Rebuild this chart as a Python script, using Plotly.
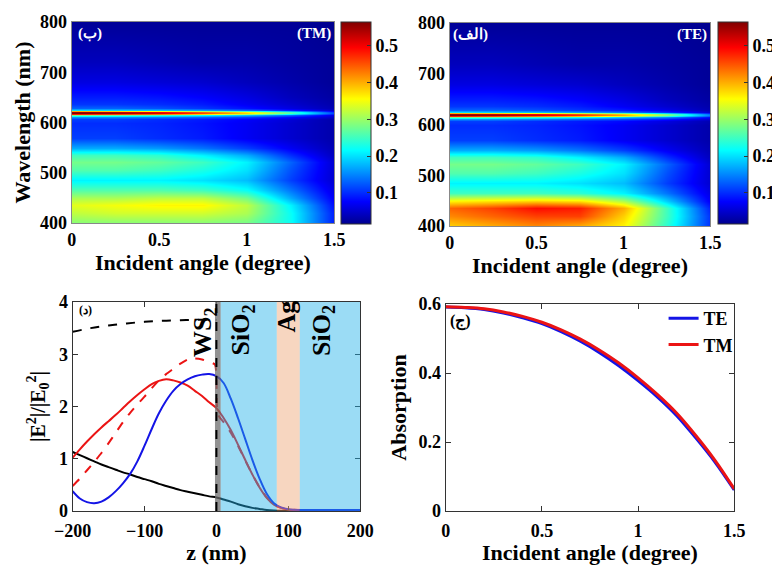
import plotly.graph_objects as go

# ---------------- data ----------------
angles = [0, 0.25, 0.5, 0.75, 1.0, 1.25, 1.5]
wavelengths = [400, 420, 435, 450, 465, 485, 505, 522, 535, 550, 570, 600, 606, 611,
               614, 616, 618, 620, 622, 625, 629, 636, 650, 680, 720, 800]

abs_tm_map = [
    [0.29, 0.29, 0.29, 0.29, 0.28, 0.22, 0.09],
    [0.32, 0.33, 0.33, 0.33, 0.31, 0.22, 0.09],
    [0.34, 0.35, 0.36, 0.36, 0.32, 0.21, 0.08],
    [0.31, 0.31, 0.32, 0.32, 0.28, 0.17, 0.07],
    [0.26, 0.26, 0.26, 0.25, 0.22, 0.14, 0.06],
    [0.21, 0.21, 0.21, 0.20, 0.18, 0.11, 0.05],
    [0.26, 0.26, 0.25, 0.23, 0.20, 0.12, 0.05],
    [0.28, 0.28, 0.27, 0.25, 0.21, 0.13, 0.05],
    [0.25, 0.25, 0.24, 0.21, 0.17, 0.10, 0.04],
    [0.17, 0.17, 0.16, 0.14, 0.11, 0.07, 0.035],
    [0.11, 0.11, 0.10, 0.09, 0.07, 0.05, 0.03],
    [0.10, 0.10, 0.095, 0.085, 0.07, 0.05, 0.03],
    [0.11, 0.11, 0.10, 0.09, 0.075, 0.055, 0.03],
    [0.16, 0.155, 0.145, 0.13, 0.11, 0.08, 0.045],
    [0.28, 0.27, 0.25, 0.22, 0.18, 0.13, 0.06],
    [0.48, 0.46, 0.43, 0.38, 0.31, 0.21, 0.09],
    [0.565, 0.55, 0.52, 0.46, 0.38, 0.26, 0.11],
    [0.55, 0.53, 0.50, 0.44, 0.36, 0.25, 0.10],
    [0.40, 0.38, 0.35, 0.31, 0.25, 0.17, 0.07],
    [0.20, 0.19, 0.18, 0.16, 0.13, 0.09, 0.045],
    [0.13, 0.13, 0.12, 0.105, 0.085, 0.06, 0.035],
    [0.105, 0.105, 0.10, 0.09, 0.07, 0.05, 0.03],
    [0.09, 0.09, 0.085, 0.075, 0.06, 0.04, 0.025],
    [0.06, 0.06, 0.055, 0.05, 0.04, 0.03, 0.02],
    [0.04, 0.04, 0.035, 0.03, 0.03, 0.025, 0.02],
    [0.02, 0.02, 0.02, 0.02, 0.02, 0.02, 0.015],
]

abs_te_map = [
    [0.38, 0.40, 0.42, 0.40, 0.36, 0.24, 0.10],
    [0.42, 0.44, 0.46, 0.46, 0.38, 0.25, 0.10],
    [0.44, 0.46, 0.49, 0.48, 0.40, 0.25, 0.09],
    [0.36, 0.37, 0.38, 0.37, 0.31, 0.19, 0.07],
    [0.25, 0.25, 0.25, 0.24, 0.21, 0.14, 0.06],
    [0.21, 0.21, 0.21, 0.20, 0.18, 0.11, 0.05],
    [0.26, 0.26, 0.25, 0.23, 0.20, 0.12, 0.05],
    [0.28, 0.28, 0.27, 0.25, 0.21, 0.13, 0.05],
    [0.25, 0.25, 0.24, 0.21, 0.17, 0.10, 0.04],
    [0.17, 0.17, 0.16, 0.14, 0.11, 0.07, 0.035],
    [0.11, 0.11, 0.10, 0.09, 0.07, 0.05, 0.03],
    [0.10, 0.10, 0.095, 0.085, 0.07, 0.05, 0.03],
    [0.11, 0.11, 0.10, 0.09, 0.08, 0.06, 0.035],
    [0.16, 0.155, 0.145, 0.13, 0.115, 0.09, 0.05],
    [0.28, 0.27, 0.25, 0.23, 0.19, 0.15, 0.08],
    [0.48, 0.46, 0.43, 0.39, 0.33, 0.24, 0.12],
    [0.565, 0.55, 0.52, 0.47, 0.40, 0.29, 0.14],
    [0.55, 0.53, 0.50, 0.45, 0.38, 0.28, 0.13],
    [0.40, 0.38, 0.35, 0.32, 0.27, 0.19, 0.09],
    [0.20, 0.19, 0.18, 0.16, 0.14, 0.10, 0.05],
    [0.13, 0.13, 0.12, 0.105, 0.09, 0.065, 0.035],
    [0.105, 0.105, 0.10, 0.09, 0.07, 0.05, 0.03],
    [0.09, 0.09, 0.085, 0.075, 0.06, 0.04, 0.025],
    [0.06, 0.06, 0.055, 0.05, 0.04, 0.03, 0.02],
    [0.04, 0.04, 0.035, 0.03, 0.03, 0.025, 0.02],
    [0.02, 0.02, 0.02, 0.02, 0.02, 0.02, 0.015],
]

# field profile panel
z_nm = [-200, -190, -180, -170, -160, -150, -140, -130, -120, -110, -100, -90, -80,
        -70, -60, -50, -40, -30, -20, -10, 0, 10, 20, 30, 40, 50, 60, 70, 80, 90,
        100, 120, 140, 160, 180, 200]
e_blue = [0.38, 0.24, 0.17, 0.15, 0.18, 0.26, 0.38, 0.53, 0.71, 0.95, 1.25, 1.57, 1.87,
          2.11, 2.30, 2.43, 2.52, 2.58, 2.61, 2.62, 2.58, 2.45, 2.15, 1.78, 1.38, 0.98,
          0.62, 0.33, 0.15, 0.07, 0.035, 0.02, 0.02, 0.02, 0.02, 0.02]
e_red = [1.02, 1.18, 1.33, 1.47, 1.60, 1.72, 1.84, 1.97, 2.10, 2.22, 2.33, 2.43, 2.49,
         2.52, 2.50, 2.46, 2.40, 2.30, 2.20, 2.08, 1.97, 1.78, 1.55, 1.27, 0.98, 0.70,
         0.45, 0.25, 0.12, 0.06, 0.03, 0.02, 0.02, 0.02, 0.02, 0.02]
e_black = [1.13, 1.07, 1.01, 0.95, 0.89, 0.84, 0.79, 0.74, 0.70, 0.65, 0.61, 0.57, 0.52,
           0.48, 0.44, 0.40, 0.37, 0.34, 0.31, 0.28, 0.26, 0.22, 0.18, 0.13, 0.09, 0.06,
           0.04, 0.02, 0.01, 0.005, 0.005, 0.005, 0.005, 0.005, 0.005, 0.005]
z_red_dash = [-200, -190, -180, -170, -160, -150, -140, -130, -120, -110, -100, -90,
              -80, -70, -60, -50, -40, -30, -20, -10, -2, 2, 10, 20, 30, 40, 50, 60,
              70, 80, 90, 100, 120, 140, 160, 180, 200]
e_red_dash = [0.48, 0.62, 0.78, 0.94, 1.11, 1.30, 1.50, 1.70, 1.88, 2.04, 2.19, 2.35,
              2.50, 2.62, 2.72, 2.82, 2.90, 2.92, 2.90, 2.85, 2.80, 1.85, 1.70, 1.50,
              1.25, 0.97, 0.70, 0.46, 0.26, 0.12, 0.06, 0.03, 0.02, 0.02, 0.02, 0.02, 0.02]
z_black_dash = [-200, -175, -150, -125, -100, -75, -50, -25, 0]
e_black_dash = [3.43, 3.50, 3.55, 3.59, 3.62, 3.64, 3.65, 3.66, 3.66]

layer_edges = [-2, 6, 84, 116, 200]   # WS2 | SiO2 | Ag | SiO2
layer_names = ["WS<sub>2</sub>", "SiO<sub>2</sub>", "Ag", "SiO<sub>2</sub>"]
layer_label_z = [-17, 36, 98, 148]
layer_label_y = [3.43, 3.46, 3.72, 3.46]

# absorption vs angle
angle_line = [0, 0.1, 0.2, 0.3, 0.4, 0.5, 0.6, 0.7, 0.8, 0.9, 1.0, 1.1, 1.2, 1.3, 1.4, 1.5]
abs_te = [0.591, 0.589, 0.584, 0.574, 0.560, 0.543, 0.520, 0.492, 0.459, 0.421, 0.378,
          0.331, 0.277, 0.212, 0.142, 0.061]
abs_tm = [0.592, 0.590, 0.586, 0.577, 0.564, 0.547, 0.525, 0.498, 0.466, 0.429, 0.386,
          0.338, 0.284, 0.219, 0.147, 0.064]

# ---------------- style ----------------
FONT = "Liberation Serif"
OX, OY = 8, 8            # page body margin of the browser
W, H = 772, 557
jet = [[0, "rgb(0,0,143)"], [0.111, "rgb(0,0,255)"], [0.365, "rgb(0,255,255)"],
       [0.619, "rgb(255,255,0)"], [0.873, "rgb(255,0,0)"], [1, "rgb(128,0,0)"]]
ZMIN, ZMAX = 0.015, 0.565


def px(x0, x1):
    return [(x0 - OX) / W, (x1 - OX) / W]


def py(top, bottom):
    return [1 - (bottom - OY) / H, 1 - (top - OY) / H]


tickfont = dict(family=FONT, size=18, color="black", weight="bold")
titlefont = dict(family=FONT, size=22, color="black", weight="bold")

fig = go.Figure()


def cbar(x_left, top, bottom):
    return dict(x=(x_left - OX) / W, xanchor="left", xpad=0, ypad=0,
                y=1 - ((top + bottom) / 2 - OY) / H, yanchor="middle",
                len=(bottom - top) / H, lenmode="fraction",
                thickness=30, thicknessmode="pixels",
                outlinewidth=1, outlinecolor="#333",
                tickvals=[0.1, 0.2, 0.3, 0.4, 0.5], ticktext=["0.1", "0.2", "0.3", "0.4", "0.5"],
                ticks="inside", ticklen=4, tickcolor="#333",
                tickfont=tickfont)


fig.add_trace(go.Heatmap(x=angles, y=wavelengths, z=abs_tm_map, colorscale=jet,
                         zmin=ZMIN, zmax=ZMAX, zsmooth="best",
                         colorbar=cbar(343, 22, 224), xaxis="x", yaxis="y"))
fig.add_trace(go.Heatmap(x=angles, y=wavelengths, z=abs_te_map, colorscale=jet,
                         zmin=ZMIN, zmax=ZMAX, zsmooth="best",
                         colorbar=cbar(722, 22, 224), xaxis="x2", yaxis="y2"))

# field profiles
fig.add_trace(go.Scatter(x=z_black_dash, y=e_black_dash, mode="lines", xaxis="x3", yaxis="y3",
                         line=dict(color="black", width=2, dash="dash", shape="spline"),
                         showlegend=False))
fig.add_trace(go.Scatter(x=z_nm, y=e_black, mode="lines", xaxis="x3", yaxis="y3",
                         line=dict(color="black", width=2, shape="spline"), showlegend=False))
fig.add_trace(go.Scatter(x=z_red_dash, y=e_red_dash, mode="lines", xaxis="x3", yaxis="y3",
                         line=dict(color="rgb(235,20,20)", width=2, dash="dash", shape="spline",
                                   smoothing=0.6),
                         showlegend=False))
fig.add_trace(go.Scatter(x=z_nm, y=e_red, mode="lines", xaxis="x3", yaxis="y3",
                         line=dict(color="rgb(235,20,20)", width=2, shape="spline"), showlegend=False))
fig.add_trace(go.Scatter(x=z_nm, y=e_blue, mode="lines", xaxis="x3", yaxis="y3",
                         line=dict(color="rgb(20,20,230)", width=2, shape="spline"), showlegend=False))

# absorption lines
fig.add_trace(go.Scatter(x=angle_line, y=abs_te, mode="lines", name="TE", xaxis="x4", yaxis="y4",
                         line=dict(color="rgb(20,20,230)", width=3, shape="spline"),
                         legendgroup="a"))
fig.add_trace(go.Scatter(x=angle_line, y=abs_tm, mode="lines", name="TM", xaxis="x4", yaxis="y4",
                         line=dict(color="rgb(235,20,20)", width=3, shape="spline"),
                         legendgroup="b"))

# layer shading
fills = [("rgb(110,110,110)", 0.75), ("rgb(33,177,233)", 0.45),
         ("rgb(237,164,115)", 0.45), ("rgb(33,177,233)", 0.45)]
for i, (col, op) in enumerate(fills):
    fig.add_shape(type="rect", xref="x3", yref="y3", x0=layer_edges[i], x1=layer_edges[i + 1],
                  y0=0, y1=4, fillcolor=col, opacity=op, line=dict(width=0), layer="above")
fig.add_shape(type="line", xref="x3", yref="y3", x0=0, x1=0, y0=0, y1=4,
              line=dict(color="black", width=2, dash="dash"), layer="above")
for name, zx, zy in zip(layer_names, layer_label_z, layer_label_y):
    fig.add_annotation(x=zx, y=zy, xref="x3", yref="y3", text=name, textangle=-90,
                       showarrow=False, font=dict(family=FONT, size=26, color="black", weight="bold"))


# panel labels
def lab(text, x, y, color, size, anchor="left"):
    fig.add_annotation(x=(x - OX) / W, y=1 - (y - OY) / H, xref="paper", yref="paper", text=text,
                       showarrow=False, xanchor=anchor, yanchor="middle",
                       font=dict(family=FONT, size=size, color=color, weight="bold"))


lab("(ب)", 76, 33, "white", 15)
lab("(TM)", 335, 33, "white", 15, "right")
lab("(الف)", 453, 34, "white", 15)
lab("(TE)", 713, 34, "white", 15, "right")
lab("(د)", 77, 310, "black", 12)
lab("(ج)", 450, 321, "black", 16)


def axis(domain, rng, tickvals, anchor, title=None, standoff=8, ticks="inside", mirror="ticks",
         linecolor="#333", ticklen=5, tsize=None, lstand=None):
    d = dict(domain=domain, range=rng, tickvals=tickvals, anchor=anchor, showgrid=False,
             zeroline=False, showline=True, mirror=mirror, linecolor=linecolor, linewidth=1,
             ticks=ticks, ticklen=ticklen, tickcolor="#333", tickfont=tickfont, automargin=False)
    if lstand is not None:
        d["ticklabelstandoff"] = lstand
    if title:
        f = dict(titlefont)
        if tsize:
            f["size"] = tsize
        d["title"] = dict(text=title, font=f, standoff=standoff)
    return d


fig.update_layout(
    width=W, height=H, margin=dict(l=0, r=0, t=0, b=0),
    paper_bgcolor="white", plot_bgcolor="white",
    font=dict(family=FONT, color="black"),
    xaxis=axis(px(72, 336), [0, 1.5], [0, 0.5, 1, 1.5], "y", "Incident angle (degree)", 5,
               ticks="", linecolor="#888"),
    yaxis=axis(py(22, 223), [400, 800], [400, 500, 600, 700, 800], "x", "Wavelength (nm)", 3,
               ticks="", linecolor="#888"),
    xaxis2=axis(px(452, 714), [0, 1.5], [0, 0.5, 1, 1.5], "y2", "Incident angle (degree)", 5,
                ticks="", linecolor="#888"),
    yaxis2=axis(py(23, 226), [400, 800], [400, 500, 600, 700, 800], "x2", None,
                ticks="", linecolor="#888"),
    xaxis3=axis(px(73, 362), [-200, 200], [-200, -100, 0, 100, 200], "y3", "z (nm)", 5,
                lstand=3),
    yaxis3=axis(py(302, 511), [0, 4], [0, 1, 2, 3, 4], "x3",
                "|E<sup>2</sup>|/|E<sub>0</sub><sup>2</sup>|", 8, tsize=20),
    xaxis4=axis(px(448, 738), [0, 1.5], [0, 0.5, 1, 1.5], "y4", "Incident angle (degree)", 5,
                lstand=3),
    yaxis4=axis(py(304, 511), [0, 0.6], [0, 0.2, 0.4, 0.6], "x4", "Absorption", 5),
    legend=dict(x=(667 - OX) / W, xanchor="left", y=1 - (300 - OY) / H, yanchor="top",
                bgcolor="rgba(0,0,0,0)", tracegroupgap=0,
                font=dict(family=FONT, size=18, color="black", weight="bold")),
)

fig.write_html("out.html")
